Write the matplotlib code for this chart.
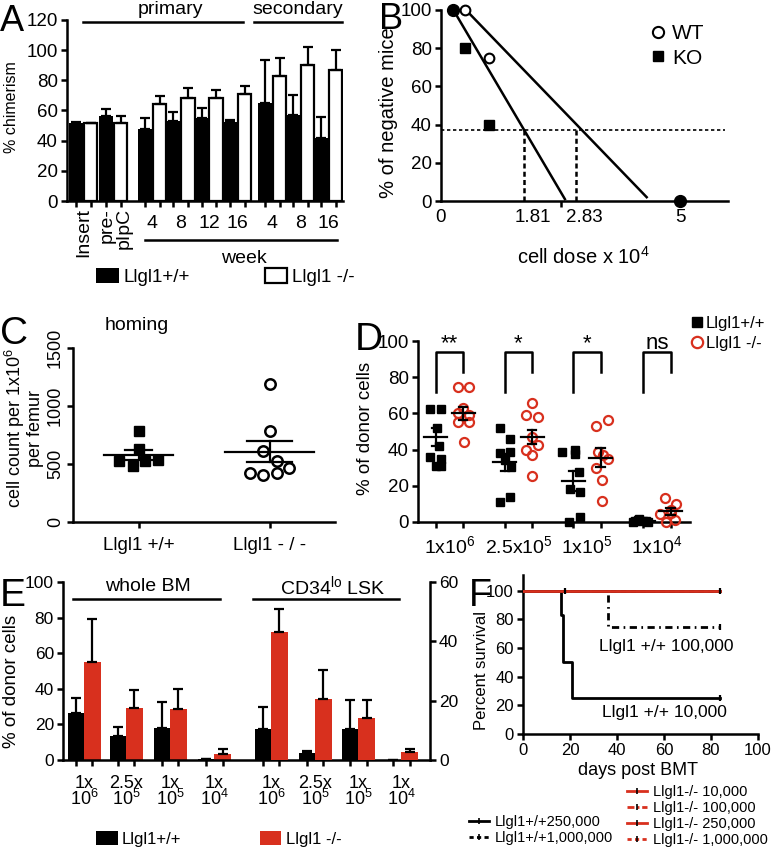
import numpy as np
import matplotlib
matplotlib.use('Agg')
import matplotlib.pyplot as plt
from matplotlib.lines import Line2D
from matplotlib.transforms import blended_transform_factory

plt.rcParams['font.family'] = ['Liberation Sans', 'DejaVu Sans']
plt.rcParams['mathtext.fontset'] = 'custom'
plt.rcParams['mathtext.rm'] = 'Liberation Sans'
plt.rcParams['mathtext.it'] = 'Liberation Sans:italic'
plt.rcParams['mathtext.bf'] = 'Liberation Sans:bold'
plt.rcParams['mathtext.default'] = 'regular'

RED = '#d8301e'

# ---------------- data ----------------
# A: % chimerism
A_groups = ['Insert', 'pre-\npIpC', '4', '8', '12', '16', '4', '8', '16']
A_wt_mean = [52, 56.5, 47.5, 53.3, 54.8, 52.6, 65.2, 56.8, 41.5]
A_wt_sem = [0.3, 4.3, 7.3, 5.5, 7.1, 1.1, 28.3, 13.5, 14.5]
A_ko_mean = [51.5, 52, 64.3, 68.5, 68, 71, 83, 90, 87]
A_ko_sem = [0, 4.6, 5.5, 6.2, 5.6, 5.5, 12, 12, 13]

# B: limiting dilution
B_WT_x = [0.5, 1.0]
B_WT_y = [100, 75]
B_KO_x = [0.5, 1.0]
B_KO_y = [80, 40]
B_both_x = [0.25, 5]
B_both_y = [100, 0]
B_fit_KO_x = [0.33, 2.59]
B_fit_KO_y = [97, 1]
B_fit_WT_x = [0.56, 4.30]
B_fit_WT_y = [99, 2]
B_threshold = 37
B_cross = [1.73, 2.83]
B_tick_pos = [0, 1.93, 2.99, 5]
B_tick_labels = ['0', '1.81', '2.83', '5']

# C: homing
C_groups = ['Llgl1 +/+', 'Llgl1 - / -']
C_wt = [787, 629, 523, 480, 523, 537]
C_ko = [1193, 787, 609, 523, 466, 422, 408, 422]
C_mean = [580, 604]
C_sem = [44, 90]

# D: % donor cells by dose
D_groups = ['1x10$^6$', '2.5x10$^5$', '1x10$^5$', '1x10$^4$']
D_sig = ['**', '*', '*', 'ns']
D_wt_1e6 = [62.5, 62.5, 52, 42, 36, 35, 31, 31]
D_wt_25e5 = [52, 46, 38, 38.5, 34, 30.5, 14, 11]
D_wt_1e5 = [38.5, 40, 37.5, 18.5, 16.5, 27.5, 0, 3]
D_wt_1e4 = [0, 1, 0.5, 0, 1.5, 0.8, 0.3]
D_ko_1e6 = [74.5, 74.5, 63, 60, 59, 55.5, 55.5, 44]
D_ko_25e5 = [66, 59, 58, 40, 42.5, 47, 37, 25.5]
D_ko_1e5 = [56.5, 53, 38.5, 35, 37, 30, 23, 11.5]
D_ko_1e4 = [13, 10, 4.5, 5, 0, 1.3, 6.5]
D_wt_mean = [47, 33, 22.5, 0.8]
D_wt_sem = [5, 4.8, 5.5, 0.3]
D_ko_mean = [60, 47, 35.5, 6]
D_ko_sem = [3.7, 4, 5.3, 2]

# E: whole BM (left axis) and CD34lo LSK (right axis)
E_top = ['1x', '2.5x', '1x', '1x']
E_bot = ['10$^6$', '10$^5$', '10$^5$', '10$^4$']
E_wbm_wt = [26.5, 13.6, 17.8, 0.3]
E_wbm_wt_sem = [8.1, 4.9, 14.9, 0]
E_wbm_ko = [54.8, 29, 28.4, 3.4]
E_wbm_ko_sem = [24.6, 10.3, 11.4, 2.6]
E_cd_wt = [10.4, 2.2, 10.3, 0]
E_cd_wt_sem = [7.5, 0.9, 9.8, 0]
E_cd_ko = [43, 20.6, 14.3, 2.6]
E_cd_ko_sem = [8, 9.6, 5.8, 1.2]

# F: survival
F_wt10k_t = [0, 16, 17, 21, 84]
F_wt10k_s = [100, 83.3, 50, 25, 25]
F_wt100k_t = [0, 36, 84]
F_wt100k_s = [100, 75, 75]
F_wt250k_t = [0, 84]
F_wt250k_s = [100, 100]
F_wt1M_t = [0, 84]
F_wt1M_s = [100, 100]
F_ko_t = [0, 84]
F_ko_s = [100, 100]
F_censor_t = [18, 84, 84, 84]
F_censor_s = [100, 100, 75, 25]

# ---------------- layout helpers ----------------
W, H = 774, 847
fig = plt.figure(figsize=(W / 100, H / 100), dpi=100)


def axpx(l, t, r, b):
    return fig.add_axes([l / W, 1 - b / H, (r - l) / W, (b - t) / H])


def ftext(x, y, s, **kw):
    return fig.text(x / W, 1 - y / H, s, **kw)


def base(ax, lw=1.8, fs=13, tl=4.5):
    for s in ['top', 'right']:
        ax.spines[s].set_visible(False)
    for s in ['left', 'bottom']:
        ax.spines[s].set_linewidth(lw)
    ax.tick_params(width=lw, length=tl, labelsize=fs, direction='out', pad=2)


ek = dict(ecolor='black', elinewidth=1.6, capsize=3.5, capthick=1.6)

# ---------------- Panel A ----------------
axA = axpx(67, 20, 343, 201)
base(axA, fs=13.5)
posA = np.array([0, 2.07, 4.76, 6.71, 8.66, 10.62, 13.03, 14.97, 16.9])
z = np.zeros(len(posA))
bA1 = axA.bar(posA, A_wt_mean, 0.92, color='black', yerr=[z, A_wt_sem], error_kw=ek)
bA2 = axA.bar(posA + 1, A_ko_mean, 0.92, facecolor='white', edgecolor='black',
              linewidth=1.6, yerr=[z, A_ko_sem], error_kw=ek)
axA.set_xlim(-0.62, 18.4)
axA.set_ylim(0, 120)
axA.set_yticks(range(0, 121, 20))
axA.set_xticks(np.concatenate([posA, posA + 1]))
axA.set_xticklabels([])
tA = blended_transform_factory(axA.transData, axA.transAxes)
for i, (p, lab) in enumerate(zip(posA + 0.5, A_groups)):
    if i < 2:
        axA.text(p + 0.15 * i, -0.04, lab, transform=tA, rotation=90, ha='center', va='top',
                 multialignment='right', fontsize=14, linespacing=1.0)
    else:
        axA.text(p, -0.125, lab, transform=tA, ha='center', va='center', fontsize=14)
axA.plot([posA[0] + 0.5, posA[5] + 0.9], [0.99, 0.99], transform=tA, clip_on=False, color='k', lw=1.8)
axA.plot([posA[6] - 0.75, posA[8] + 1.4], [0.99, 0.99], transform=tA, clip_on=False, color='k', lw=1.8)
axA.plot([posA[2], posA[8] + 1.1], [-0.215, -0.215], transform=tA, clip_on=False, color='k', lw=1.8)
axA.text(6.5, 1.06, 'primary', transform=tA, ha='center', va='center', fontsize=14)
axA.text(15.3, 1.06, 'secondary', transform=tA, ha='center', va='center', fontsize=14)
axA.text(11.6, -0.315, 'week', transform=tA, ha='center', va='center', fontsize=14)
ftext(12, 107, '% chimerism', rotation=90, ha='center', va='center', fontsize=11.5)
fig.legend([bA1, bA2], ['Llgl1+/+', 'Llgl1 -/-'], ncol=2, loc='center left',
           bbox_to_anchor=(96 / W, 1 - 277 / H), frameon=False, fontsize=13.5,
           handlelength=1.2, handleheight=0.85, handletextpad=0.25, columnspacing=4.0,
           borderpad=0, borderaxespad=0)
ftext(0, 4, 'A', fontsize=26, va='top', ha='left')

# ---------------- Panel B ----------------
axB = axpx(441, 10, 728, 201)
base(axB, fs=13.5)
axB.plot(B_fit_KO_x, B_fit_KO_y, 'k-', lw=1.8)
axB.plot(B_fit_WT_x, B_fit_WT_y, 'k-', lw=1.8)
axB.plot([0, 5.94], [B_threshold, B_threshold], color='k', lw=1.2, ls=(0, (2, 1.6)))
for x in B_cross:
    axB.plot([x, x], [0, B_threshold], color='k', lw=1.8, ls=(0, (2, 1.3)))
lWT, = axB.plot(B_WT_x, B_WT_y, 'o', mfc='white', mec='black', mew=1.5, ms=7,
                clip_on=False, zorder=5)
lKO, = axB.plot(B_KO_x, B_KO_y, 's', color='black', ms=6.5, clip_on=False, zorder=5)
axB.plot(B_both_x, B_both_y, 'o', color='black', ms=8.5, clip_on=False, zorder=6)
axB.set_xlim(0, 6)
axB.set_ylim(0, 100)
axB.set_yticks(range(0, 101, 20))
axB.set_xticks(B_tick_pos)
axB.set_xticklabels(B_tick_labels)
axB.tick_params(axis='x', length=0, pad=6)
axB.set_xticks([2.5], minor=True)
axB.tick_params(axis='x', which='minor', length=4, width=1.8)
axB.legend([lWT, lKO], ['WT', 'KO'], loc='upper left', bbox_to_anchor=(639 / W, 1 - 14 / H),
           bbox_transform=fig.transFigure, frameon=False, fontsize=15, handlelength=0.8,
           handletextpad=0.3, borderpad=0, labelspacing=0.25, markerscale=1.15)
ftext(583, 257, 'cell dose x 10$^4$', ha='center', va='center', fontsize=14.5)
ftext(388, 113, '% of negative mice', rotation=90, ha='center', va='center', fontsize=14.5)
ftext(379, 2, 'B', fontsize=26, va='top', ha='left')

# ---------------- Panel C ----------------
axC = axpx(73, 348, 335, 522)
base(axC, fs=13)
C_jit_wt = [0, 0, -0.15, -0.04, 0.05, 0.15]
C_jit_ko = [0, 0, -0.05, 0.06, 0.15, -0.15, -0.05, 0.06]
axC.plot(0 + np.array(C_jit_wt), C_wt, 's', color='k', ms=6.5)
axC.plot(1 + np.array(C_jit_ko), C_ko, 'o', mfc='white', mec='k', mew=1.8, ms=7.5)
for i, (m, s, hw, cw) in enumerate(zip(C_mean, C_sem, [0.26, 0.34], [0.1, 0.17])):
    axC.plot([i - hw, i + hw], [m, m], 'k-', lw=1.6)
    axC.plot([i, i], [m - s, m + s], 'k-', lw=1.6)
    axC.plot([i - cw, i + cw], [m + s, m + s], 'k-', lw=1.6)
    axC.plot([i - cw, i + cw], [m - s, m - s], 'k-', lw=1.6)
axC.set_xlim(-0.5, 1.5)
axC.set_ylim(0, 1500)
axC.set_xticks([0, 1])
axC.set_xticklabels(C_groups, fontsize=13.5)
axC.tick_params(axis='x', pad=6)
axC.set_yticks([0, 500, 1000, 1500])
axC.set_yticklabels(['0', '500', '1000', '1500'], rotation=90, va='center')
ftext(137, 326, 'homing', ha='center', va='center', fontsize=14)
ftext(23, 428, 'cell count per 1x10$^6$\nper femur', rotation=90, ha='center',
      va='center', fontsize=13, linespacing=1.0)
ftext(0, 316, 'C', fontsize=28, va='top', ha='left')

# ---------------- Panel D ----------------
axD = axpx(418, 341, 690, 522)
base(axD, fs=13.5)
posD = np.array([0, 2.52, 5.02, 7.58])
D_wt = [D_wt_1e6, D_wt_25e5, D_wt_1e5, D_wt_1e4]
D_ko = [D_ko_1e6, D_ko_25e5, D_ko_1e5, D_ko_1e4]
D_jit_wt = [[-0.2, 0.2, 0.05, 0.1, -0.2, 0.2, 0.0, 0.2],
            [-0.18, 0.2, -0.18, 0.2, 0, 0.24, 0.2, -0.18],
            [-0.39, 0.06, 0.06, -0.12, 0.24, 0.22, -0.15, 0.24],
            [-0.39, -0.18, 0, 0.18, -0.15, 0.12, -0.3]]
D_jit_ko = [[-0.2, 0.2, 0, -0.2, 0.2, -0.2, 0.2, 0.03],
            [0, -0.22, 0.2, -0.22, 0.2, 0, 0, 0],
            [0.27, -0.16, -0.1, 0.27, 0.09, -0.16, 0.06, 0.06],
            [-0.22, 0.2, -0.4, 0, -0.18, 0.18, 0]]
for g in range(4):
    hb, = axD.plot(posD[g] + np.array(D_jit_wt[g]), D_wt[g], 's', color='k', ms=5.5,
                   clip_on=False, zorder=3)
    hr, = axD.plot(posD[g] + 1 + np.array(D_jit_ko[g]), D_ko[g], 'o', mfc='none', mec=RED,
                   mew=1.6, ms=6.5, clip_on=False, zorder=3)
    for x0, m, s in [(posD[g], D_wt_mean[g], D_wt_sem[g]), (posD[g] + 1, D_ko_mean[g], D_ko_sem[g])]:
        axD.plot([x0 - 0.42, x0 + 0.42], [m, m], 'k-', lw=1.6, zorder=4)
        axD.plot([x0, x0], [m - s, m + s], 'k-', lw=1.6, zorder=4)
        axD.plot([x0 - 0.15, x0 + 0.15], [m + s, m + s], 'k-', lw=1.6, zorder=4)
        axD.plot([x0 - 0.15, x0 + 0.15], [m - s, m - s], 'k-', lw=1.6, zorder=4)
    axD.plot([posD[g], posD[g], posD[g] + 1, posD[g] + 1], [72, 94, 94, 83], 'k-', lw=1.8)
    axD.text(posD[g] + 0.5, 95.5, D_sig[g], ha='center', va='baseline', fontsize=16)
axD.set_xlim(-0.65, 9.29)
axD.set_ylim(0, 100)
axD.set_yticks(range(0, 101, 20))
axD.set_xticks(np.concatenate([posD, posD + 1]))
axD.set_xticklabels([])
tD = blended_transform_factory(axD.transData, axD.transAxes)
for g in range(4):
    axD.text(posD[g] + 0.5, -0.135, D_groups[g], transform=tD, ha='center', va='center', fontsize=14)
axD.legend([hb, hr], ['Llgl1+/+', 'Llgl1 -/-'], loc='upper left',
           bbox_to_anchor=(683 / W, 1 - 308 / H), bbox_transform=fig.transFigure,
           frameon=False, fontsize=12, handlelength=0.7, handletextpad=0.15, borderpad=0,
           labelspacing=0.3, markerscale=1.25)
ftext(365, 428, '% of donor cells', rotation=90, ha='center', va='center', fontsize=13.5)
ftext(355, 322, 'D', fontsize=28, va='top', ha='left')

# ---------------- Panel E ----------------
axE = axpx(63, 582, 430, 760)
base(axE, fs=12.5)
axE2 = axE.twinx()
for s in ['top', 'left', 'bottom']:
    axE2.spines[s].set_visible(False)
axE2.spines['right'].set_linewidth(1.8)
axE2.tick_params(width=1.8, length=4.5, labelsize=12.5, direction='out', pad=2)
posW = np.array([0, 2.58, 5.28, 7.98])
posC = np.array([11.47, 14.17, 16.81, 19.45])
z4 = np.zeros(4)
bE1 = axE.bar(posW, E_wbm_wt, 1.0, color='black', yerr=[z4, E_wbm_wt_sem], error_kw=ek)
bE2 = axE.bar(posW + 1, E_wbm_ko, 1.0, color=RED, yerr=[z4, E_wbm_ko_sem], error_kw=ek)
axE2.bar(posC, E_cd_wt, 1.0, color='black', yerr=[z4, E_cd_wt_sem], error_kw=ek)
axE2.bar(posC + 1, E_cd_ko, 1.0, color=RED, yerr=[z4, E_cd_ko_sem], error_kw=ek)
axE.set_xlim(-0.8, 21.7)
axE.set_ylim(0, 100)
axE2.set_ylim(0, 60)
axE.set_yticks(range(0, 101, 20))
axE2.set_yticks(range(0, 61, 20))
allpos = np.concatenate([posW, posW + 1, posC, posC + 1])
axE.set_xticks(allpos)
axE.set_xticklabels([])
tE = blended_transform_factory(axE.transData, axE.transAxes)
for g, p in enumerate(np.concatenate([posW, posC]) + 0.5):
    axE.text(p, -0.13, E_top[g % 4], transform=tE, ha='center', va='center', fontsize=13)
    axE.text(p, -0.22, E_bot[g % 4], transform=tE, ha='center', va='center', fontsize=13)
axE.plot([-0.2, 8.8], [0.905, 0.905], transform=tE, clip_on=False, color='k', lw=1.8)
axE.plot([10.86, 19.8], [0.905, 0.905], transform=tE, clip_on=False, color='k', lw=1.8)
axE.text(4.4, 0.975, 'whole BM', transform=tE, ha='center', va='center', fontsize=14)
axE.text(15.75, 0.975, 'CD34$^{lo}$ LSK', transform=tE, ha='center', va='center', fontsize=14)
fig.legend([bE1, bE2], ['Llgl1+/+', 'Llgl1 -/-'], ncol=2, loc='center left',
           bbox_to_anchor=(96 / W, 1 - 839 / H), frameon=False, fontsize=12,
           handlelength=1.3, handleheight=0.9, handletextpad=0.25, columnspacing=4.7,
           borderpad=0, borderaxespad=0)
ftext(12, 681, '% of donor cells', rotation=90, ha='center', va='center', fontsize=13.5)
ftext(0, 578, 'E', fontsize=28, va='top', ha='left')

# ---------------- Panel F ----------------
axF = axpx(523, 575, 758, 734)
base(axF, fs=12)
axF.plot(F_wt250k_t, F_wt250k_s, color='k', lw=2, drawstyle='steps-post')
axF.plot(F_wt1M_t, F_wt1M_s, color='k', lw=2, ls=(0, (2, 1.5)), drawstyle='steps-post')
axF.plot(F_wt10k_t, F_wt10k_s, color='k', lw=2, drawstyle='steps-post')
axF.plot(F_wt100k_t, F_wt100k_s, color='k', lw=2, ls=(0, (2.6, 1.6, 0.6, 1.6)), drawstyle='steps-post')
axF.plot(F_ko_t, F_ko_s, color=RED, lw=2, drawstyle='steps-post', zorder=3)
axF.plot(F_censor_t, F_censor_s, ls='none', marker='|', color='k', ms=5, mew=1.6, zorder=4,
         clip_on=False)
axF.set_xlim(0, 100)
axF.set_ylim(0, 111)
axF.set_xticks(range(0, 101, 20))
axF.set_yticks(range(0, 101, 20))
axF.text(61, 61, 'Llgl1 +/+ 100,000', ha='center', va='center', fontsize=12.5)
axF.text(60, 15, 'Llgl1 +/+ 10,000', ha='center', va='center', fontsize=12.5)
ftext(638, 770, 'days post BMT', ha='center', va='center', fontsize=13)
ftext(481, 670, 'Percent survival', rotation=90, ha='center', va='center', fontsize=12)
ftext(469, 578, 'F', fontsize=27, va='top', ha='left')


def proxy(color, ls):
    return Line2D([], [], color=color, ls=ls, lw=2, marker='|', mec='k', ms=4, mew=1.2)


fig.legend([proxy('k', '-'), proxy('k', (0, (1.5, 1.2)))],
           ['Llgl1+/+250,000', 'Llgl1+/+1,000,000'], loc='upper left',
           bbox_to_anchor=(469 / W, 1 - 815 / H), frameon=False, fontsize=10.5,
           handlelength=1.4, handletextpad=0.4, labelspacing=0.13, borderpad=0, borderaxespad=0,
           numpoints=1)
fig.legend([proxy(RED, '-'), proxy(RED, (0, (2.5, 1, 0.8, 1))), proxy(RED, '-'),
            proxy(RED, (0, (1.5, 1.2)))],
           ['Llgl1-/- 10,000', 'Llgl1-/- 100,000', 'Llgl1-/- 250,000', 'Llgl1-/- 1,000,000'],
           loc='upper left', bbox_to_anchor=(627 / W, 1 - 785 / H), frameon=False, fontsize=10.5,
           handlelength=1.4, handletextpad=0.4, labelspacing=0.13, borderpad=0, borderaxespad=0,
           numpoints=1)

fig.savefig('out.png', dpi=100)
